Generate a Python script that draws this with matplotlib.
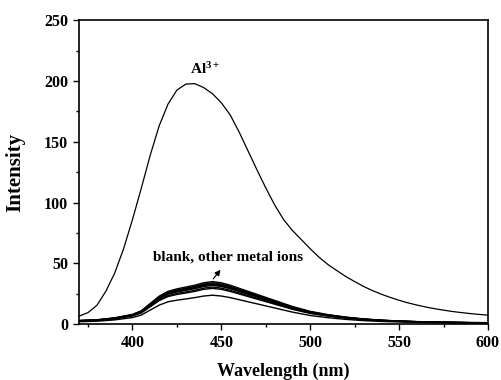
import numpy as np
import matplotlib
matplotlib.use('Agg')
import matplotlib.pyplot as plt
from matplotlib.ticker import MultipleLocator

plt.rcParams['font.family'] = ['Liberation Serif', 'DejaVu Serif']
plt.rcParams['font.weight'] = 'bold'
plt.rcParams['mathtext.fontset'] = 'custom'
plt.rcParams['mathtext.rm'] = 'Liberation Serif:bold'
plt.rcParams['mathtext.default'] = 'rm'

# Al3+ emission spectrum (5 nm steps)
wl_al = np.arange(370, 601, 5)
al = [6.6, 9.5, 15.5, 27, 42, 62, 86, 112, 139, 163, 181, 192.5, 197.4, 197.8,
      194.6, 189.5, 182, 172, 158, 142.5, 127, 112, 98, 86, 77, 69.5, 62,
      55, 49, 44, 39.2, 35, 31, 27.6, 24.6, 22, 19.6, 17.5, 15.7, 14.1,
      12.7, 11.5, 10.4, 9.5, 8.7, 8.0, 7.4]

# blank and other metal ions
wl_blank = [370, 380, 390, 400, 405, 410, 415, 420, 425, 430, 435, 440, 445,
            450, 455, 460, 470, 480, 490, 500, 510, 520, 530, 540, 550, 560,
            570, 580, 590, 600]
blank_curves = [
    [3.0, 3.6, 5.2, 8.0, 11, 17, 23, 27, 29, 30.5, 32, 34, 35, 34, 32, 29.5,
     24.5, 19.5, 14.5, 10.5, 7.8, 5.8, 4.3, 3.3, 2.6, 2.1, 1.7, 1.5, 1.3, 1.2],
    [2.9, 3.5, 5.0, 7.8, 10.7, 16.5, 22.3, 26.2, 28.1, 29.6, 31.0, 33.0, 34.0,
     33.0, 31.0, 28.6, 23.8, 18.9, 14.1, 10.2, 7.6, 5.6, 4.2, 3.2, 2.5, 2.0,
     1.6, 1.5, 1.3, 1.2],
    [2.9, 3.4, 4.9, 7.6, 10.5, 16.2, 21.9, 25.7, 27.6, 29.0, 30.4, 32.3, 33.3,
     32.3, 30.4, 28.0, 23.3, 18.5, 13.8, 10.0, 7.4, 5.5, 4.1, 3.1, 2.5, 2.0,
     1.6, 1.4, 1.2, 1.1],
    [2.8, 3.3, 4.8, 7.4, 10.2, 15.8, 21.4, 25.1, 27.0, 28.4, 29.8, 31.6, 32.6,
     31.6, 29.8, 27.4, 22.8, 18.1, 13.5, 9.8, 7.3, 5.4, 4.0, 3.1, 2.4, 2.0,
     1.6, 1.4, 1.2, 1.1],
    [2.7, 3.3, 4.7, 7.3, 10.0, 15.5, 20.9, 24.6, 26.4, 27.8, 29.1, 30.9, 31.9,
     30.9, 29.1, 26.8, 22.3, 17.7, 13.2, 9.6, 7.1, 5.3, 3.9, 3.0, 2.4, 1.9,
     1.5, 1.4, 1.2, 1.1],
    [2.6, 3.1, 4.5, 7.0, 9.6, 14.8, 20.0, 23.5, 25.2, 26.5, 27.8, 29.6, 30.5,
     29.6, 27.8, 25.7, 21.3, 17.0, 12.6, 9.1, 6.8, 5.0, 3.7, 2.9, 2.3, 1.8,
     1.5, 1.3, 1.1, 1.0],
    [2.5, 3.0, 4.4, 6.7, 9.2, 14.3, 19.3, 22.7, 24.4, 25.6, 26.9, 28.6, 29.4,
     28.6, 26.9, 24.8, 20.6, 16.4, 12.2, 8.8, 6.6, 4.9, 3.6, 2.8, 2.2, 1.8,
     1.4, 1.3, 1.1, 1.0],
    [2.0, 2.4, 3.5, 5.4, 7.5, 11.6, 15.6, 18.4, 19.7, 20.7, 21.8, 23.1, 23.8,
     23.1, 21.8, 20.1, 16.7, 13.3, 9.9, 7.1, 5.3, 3.9, 2.9, 2.2, 1.8, 1.4,
     1.2, 1.0, 0.9, 0.8],
]

fig = plt.figure(figsize=(5.01, 3.80), dpi=100)
ax = fig.add_axes([0.158, 0.147, 0.816, 0.800])

ax.plot(wl_al, al, color='black', lw=0.9)
for c in blank_curves:
    ax.plot(wl_blank, c, color='black', lw=1.0)

ax.text(441, 206, 'Al$^{3+}$', ha='center', va='baseline', fontsize=11,
        fontweight='bold')
ax.text(454, 52, 'blank, other metal ions', ha='center', va='baseline',
        fontsize=11, fontweight='bold')
ax.annotate('', xy=(450.5, 46.5), xytext=(444.5, 35.5),
            arrowprops=dict(arrowstyle='-|>', color='black', lw=0.9,
                            mutation_scale=8))

ax.set_xlim(370, 600)
ax.set_ylim(0, 250)
ax.xaxis.set_major_locator(MultipleLocator(50))
ax.xaxis.set_minor_locator(MultipleLocator(25))
ax.yaxis.set_major_locator(MultipleLocator(50))
ax.yaxis.set_minor_locator(MultipleLocator(25))
ax.tick_params(which='major', direction='out', length=4.5, width=1,
               labelsize=11.5, top=False, right=False)
ax.tick_params(which='minor', direction='out', length=2.5, width=1,
               top=False, right=False)
for lab in ax.get_xticklabels() + ax.get_yticklabels():
    lab.set_fontweight('bold')
for s in ax.spines.values():
    s.set_linewidth(1.2)

ax.set_xlabel('Wavelength (nm)', fontsize=13, fontweight='bold', labelpad=8)
ax.set_ylabel('Intensity', fontsize=15, fontweight='bold')
ax.yaxis.set_label_coords(-0.132, 0.5)

fig.savefig('out.png', dpi=100)
